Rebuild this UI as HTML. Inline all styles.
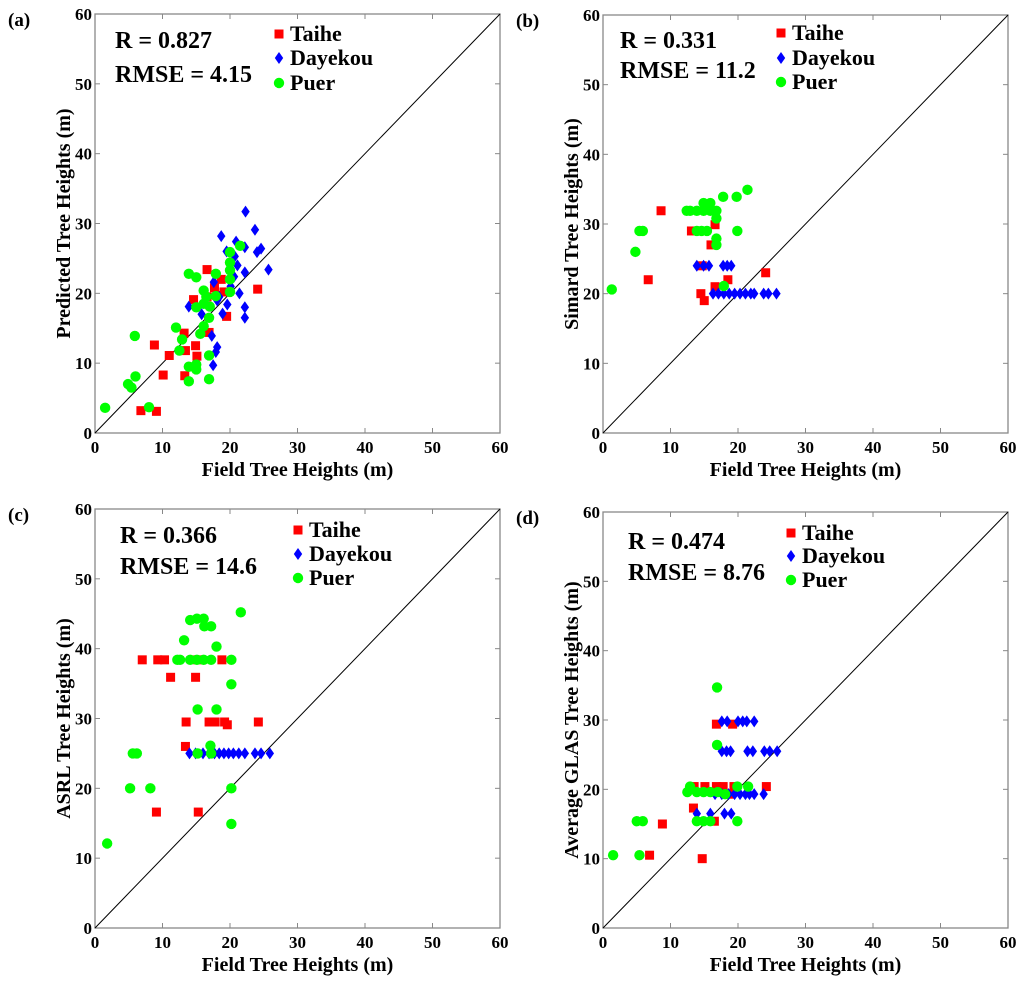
<!DOCTYPE html>
<html><head><meta charset="utf-8">
<style>
body{margin:0;background:#fff;}
svg{display:block;font-family:"Liberation Serif",serif;font-weight:bold;}
</style></head>
<body>
<svg id="chart" width="1024" height="982" xmlns="http://www.w3.org/2000/svg"></svg>
<script>
// ---- Data (Field height, Estimated height) ----
const tickValues = [0,10,20,30,40,50,60];
const seriesNames = ["Taihe","Dayekou","Puer"];
// Panel (a)
const aTaiheX=[16.6,18.7,17.7,19.1,14.6,16.6,19.5,24.1,13.2,16.9,8.8,14.9,13.4,11.0,15.1,10.1,13.3,6.8,9.1];
const aTaiheY=[23.4,22.0,20.8,20.2,19.1,19.5,16.7,20.6,14.3,14.4,12.6,12.5,11.8,11.1,11.0,8.3,8.2,3.2,3.1];
const aDayX=[22.3,23.7,18.7,20.9,22.2,19.5,24.0,24.6,20.7,21.1,22.2,25.7,20.6,17.6,20.1,21.4,18.4,13.9,15.8,19.6,22.2,22.2,18.9,18.1,17.3,18.1,17.9,17.5];
const aDayY=[31.7,29.1,28.2,27.4,26.6,26.0,25.9,26.4,25.3,24.0,23.0,23.4,22.4,21.6,21.0,20.0,19.5,18.1,17.0,18.4,18.0,16.5,17.1,19.0,13.9,12.3,11.6,9.7];
const aPuerX=[21.5,20.0,20.0,20.0,20.0,20.0,17.9,13.9,15.0,16.1,17.9,16.5,15.0,16.1,17.0,16.9,16.1,15.6,12.0,12.9,12.5,16.9,13.9,15.0,15.0,13.9,16.9,5.9,6.0,4.9,5.4,8.0,1.5];
const aPuerY=[26.8,25.9,24.4,23.3,22.0,20.2,22.8,22.8,22.3,20.4,19.6,19.5,18.0,18.5,18.1,16.5,15.3,14.2,15.1,13.4,11.8,11.1,9.5,9.8,9.1,7.4,7.7,13.9,8.1,7.0,6.5,3.7,3.6];
// Panel (b)
const bTaiheX=[8.6,16.6,13.1,16.0,14.7,6.7,18.5,24.1,16.6,14.5,15.0];
const bTaiheY=[31.9,29.9,29.0,27.0,24.0,22.0,22.0,23.0,21.0,20.0,19.0];
const bDayX=[13.9,14.9,15.7,17.8,18.4,19.0,16.3,17.1,17.9,18.7,19.5,20.3,21.1,21.9,22.4,23.8,24.5,25.7];
const bDayY=[24,24,24,24,24,24,20,20,20,20,20,20,20,20,20,20,20,20];
const bPuerX=[21.4,19.8,17.8,14.9,15.9,12.4,12.9,13.9,14.9,15.9,16.8,16.8,13.9,14.6,15.4,19.9,5.4,5.9,16.8,16.8,4.8,1.3,17.9];
const bPuerY=[34.9,33.9,33.9,33.0,33.0,31.9,31.9,31.9,31.9,31.9,31.9,30.8,29.0,29.0,29.0,29.0,29.0,29.0,27.9,27.0,26.0,20.6,21.1];
// Panel (c)
const cTaiheX=[7.0,9.3,10.3,15.2,18.8,11.2,14.9,13.5,16.9,17.8,19.2,19.6,24.2,13.4,9.1,15.3];
const cTaiheY=[38.4,38.4,38.4,38.4,38.4,35.9,35.9,29.5,29.5,29.5,29.5,29.1,29.5,26.0,16.6,16.6];
const cDayX=[14.0,14.9,16.0,16.9,17.7,18.4,19.1,19.8,20.5,21.3,22.2,23.7,24.6,25.9];
const cDayY=[25,25,25,25,25,25,25,25,25,25,25,25,25,25];
const cPuerX=[21.6,14.1,15.1,16.1,16.2,17.2,13.2,18.0,12.2,12.6,14.1,15.1,16.1,17.2,20.2,20.2,15.2,18.0,17.1,15.2,17.2,5.6,6.2,5.2,8.2,20.2,20.2,1.8];
const cPuerY=[45.2,44.1,44.3,44.3,43.2,43.2,41.2,40.3,38.4,38.4,38.4,38.4,38.4,38.4,38.4,34.9,31.3,31.3,26.1,25.0,25.0,25.0,25.0,20.0,20.0,20.0,14.9,12.1];
// Panel (d)
const dTaiheX=[16.8,19.2,13.5,15.1,16.8,17.8,19.4,24.2,18.9,13.4,16.5,8.8,6.9,14.7];
const dTaiheY=[29.4,29.4,20.4,20.4,20.4,20.4,20.4,20.4,19.3,17.3,15.4,15.0,10.5,10.0];
const dDayX=[17.6,18.4,20.0,20.7,21.3,22.4,17.6,18.3,18.9,21.4,22.2,23.9,24.7,25.8,16.6,17.6,18.6,19.5,20.3,21.1,21.7,22.4,23.8,13.9,15.9,18.0,19.0];
const dDayY=[29.8,29.8,29.8,29.8,29.8,29.8,25.5,25.5,25.5,25.5,25.5,25.5,25.5,25.5,19.3,19.3,19.3,19.3,19.3,19.3,19.3,19.3,19.3,16.5,16.5,16.5,16.5];
const dPuerX=[16.9,16.9,12.9,12.5,13.9,14.9,15.9,17.0,18.1,19.9,21.5,13.9,14.9,15.9,19.9,5.0,5.9,1.5,5.4];
const dPuerY=[34.7,26.4,20.4,19.6,19.6,19.6,19.6,19.6,19.3,20.4,20.4,15.4,15.4,15.4,15.4,15.4,15.4,10.5,10.5];

const panels=[
 {id:"a",L:95,T:14,W:405,H:419,ylab:"Predicted Tree Heights (m)",R:"R = 0.827",E:"RMSE = 4.15",sx:115,sy:48,sy2:82,lx:279,ly:[41,65,90],
  s:[[aTaiheX,aTaiheY],[aDayX,aDayY],[aPuerX,aPuerY]]},
 {id:"b",L:603,T:15,W:405,H:418,ylab:"Simard Tree Heights (m)",R:"R = 0.331",E:"RMSE = 11.2",sx:620,sy:48,sy2:78,lx:781,ly:[40,65,89],
  s:[[bTaiheX,bTaiheY],[bDayX,bDayY],[bPuerX,bPuerY]]},
 {id:"c",L:95,T:509,W:405,H:419,ylab:"ASRL Tree Heights (m)",R:"R = 0.366",E:"RMSE = 14.6",sx:120,sy:543,sy2:574,lx:298,ly:[537,561,585],
  s:[[cTaiheX,cTaiheY],[cDayX,cDayY],[cPuerX,cPuerY]]},
 {id:"d",L:603,T:512,W:405,H:416,ylab:"Average GLAS Tree Heights (m)",R:"R = 0.474",E:"RMSE = 8.76",sx:628,sy:549,sy2:580,lx:791,ly:[540,563,587],
  s:[[dTaiheX,dTaiheY],[dDayX,dDayY],[dPuerX,dPuerY]]}
];
const NS="http://www.w3.org/2000/svg";
const svg=document.getElementById("chart");
function mk(tag,attrs,parent,txt){const e=document.createElementNS(NS,tag);for(const k in attrs)e.setAttribute(k,attrs[k]);if(txt!==undefined)e.textContent=txt;parent.appendChild(e);return e;}
function marker(g,k,x,y){
  let m;
  if(k===0){m=mk("rect",{x:x-4.5,y:y-4.5,width:9,height:9,fill:"#ff0000"},g);}
  else if(k===1){m=mk("polygon",{points:`${x},${y-6} ${x+4.2},${y} ${x},${y+6} ${x-4.2},${y}`,fill:"#0000ff"},g);}
  else {m=mk("circle",{cx:x,cy:y,r:5.2,fill:"#00ff00"},g);}
  return m;
}
panels.forEach(p=>{
  const g=mk("g",{},svg);
  
  
  const X=v=>p.L+v/60*p.W, Y=v=>p.T+p.H-v/60*p.H;
  const box=mk("rect",{x:p.L,y:p.T,width:p.W,height:p.H,fill:"none",stroke:"#888",'stroke-width':1.3},g);
  
  
  tickValues.forEach(t=>{
    mk("line",{x1:X(t),y1:p.T+p.H,x2:X(t),y2:p.T+p.H-5,stroke:"#888"},g);
    mk("line",{x1:X(t),y1:p.T,x2:X(t),y2:p.T+5,stroke:"#888"},g);
    mk("line",{x1:p.L,y1:Y(t),x2:p.L+5,y2:Y(t),stroke:"#888"},g);
    mk("line",{x1:p.L+p.W,y1:Y(t),x2:p.L+p.W-5,y2:Y(t),stroke:"#888"},g);
    const xl=mk("text",{x:X(t),y:p.T+p.H+20,'text-anchor':'middle','font-size':17},g,String(t));
    
    
    const yl=mk("text",{x:p.L-3,y:Y(t)+6,'text-anchor':'end','font-size':17},g,String(t));
    
    
  });
  const d=mk("line",{x1:X(0),y1:Y(0),x2:X(60),y2:Y(60),stroke:"#000",'stroke-width':1},g);
  
  
  p.s.forEach((s,k)=>{
    const sg=mk("g",{},g);
    
    
    s[0].forEach((xv,i)=>{
      const m=marker(sg,k,X(xv),Y(s[1][i]));
      
      
    });
  });
  const pl=mk("text",{x:p.L-87,y:p.T+12,'font-size':19},g,"("+p.id+")");
  
  
  const r=mk("text",{x:p.sx,y:p.sy,'font-size':24},g,p.R);
  
  
  const e=mk("text",{x:p.sx,y:p.sy2,'font-size':24},g,p.E);
  
  
  seriesNames.forEach((n,k)=>{
    const lm=marker(g,k,p.lx,p.ly[k]-7);
    
    
    const lt=mk("text",{x:p.lx+11,y:p.ly[k],'font-size':22},g,n);
    
    
  });
  const xt=mk("text",{x:p.L+p.W/2,y:p.T+p.H+43,'text-anchor':'middle','font-size':20},g,"Field Tree Heights (m)");
  
  
  const cx=p.L-25, cy=p.T+p.H/2;
  const yt=mk("text",{x:cx,y:cy,'text-anchor':'middle','font-size':20,transform:`rotate(-90 ${cx} ${cy})`},g,p.ylab);
  
  
});
</script>
</body></html>
